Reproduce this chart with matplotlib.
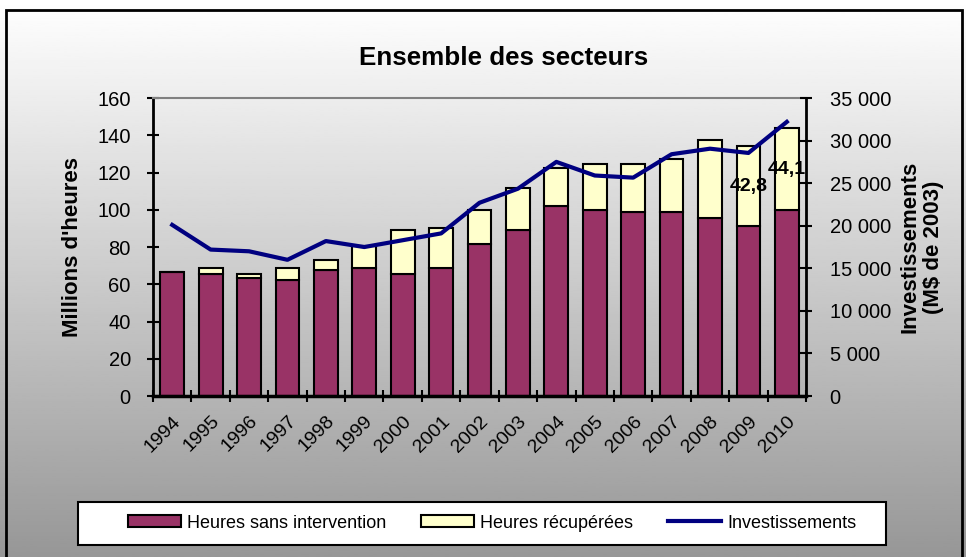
import numpy as np
import matplotlib.pyplot as plt
from matplotlib.patches import Rectangle, Patch
from matplotlib.lines import Line2D
from matplotlib.ticker import FuncFormatter

plt.rcParams['font.family'] = ['Liberation Sans', 'DejaVu Sans']

years = [str(y) for y in range(1994, 2011)]
sans_intervention = [66.5, 65.3, 63.5, 62.4, 67.4, 68.7, 65.3, 68.7, 81.8, 89.2,
                     102.0, 99.8, 98.9, 98.9, 95.5, 91.3, 99.8]
recuperees = [0.0, 3.4, 2.1, 6.3, 5.4, 11.8, 23.7, 21.5, 18.2, 22.6,
              20.7, 24.8, 25.7, 28.2, 42.0, 42.8, 44.1]
investissements = [20100, 17200, 17000, 16000, 18200, 17500, 18300, 19100, 22700, 24350,
                   27500, 25900, 25650, 28400, 29050, 28550, 32200]
labelled = {15: "42,8", 16: "44,1"}

purple = '#993366'
yellow = '#ffffcc'
navy = '#000080'

fig = plt.figure(figsize=(9.66, 5.57), dpi=100)

# gradient background of the whole chart
bg = fig.add_axes([0, 0, 1, 1], zorder=-10)
grad = np.linspace(1.0, 0.0, 256).reshape(-1, 1)
bg.imshow(grad, aspect='auto', cmap='gray', vmin=-1.45, vmax=1.0,
          extent=[0, 1, 0, 1], origin='upper')
bg.axis('off')
fig.patches.append(Rectangle((6 / 966, -0.01), 956 / 966, 1 - 10 / 557 + 0.01,
                             transform=fig.transFigure, fill=False,
                             edgecolor='black', linewidth=2))

ax = fig.add_axes([0.1584, 0.289, 0.676, 0.535])
ax.patch.set_alpha(0)
x = np.arange(len(years))

ax.bar(x, sans_intervention, width=0.62, color=purple, edgecolor='black', linewidth=1.5, zorder=2)
ax.bar(x, recuperees, width=0.62, bottom=sans_intervention, color=yellow,
       edgecolor='black', linewidth=1.5, zorder=2)

for i, txt in labelled.items():
    ax.text(x[i], sans_intervention[i] + recuperees[i] / 2, txt, ha='center', va='center',
            fontsize=14, fontweight='bold', zorder=5)

ax.set_xlim(-0.5, len(years) - 0.5)
ax.set_ylim(0, 160)
ax.set_yticks(range(0, 161, 20))
ax.set_xticks(x)
ax.set_xticklabels(years, rotation=45, ha='right', va='top', rotation_mode='anchor', fontsize=14)
ax.set_xticks(np.arange(-0.5, len(years), 1), minor=True)
ax.tick_params(axis='x', which='major', length=0, pad=12)
ax.tick_params(axis='x', which='minor', direction='inout', length=8, width=1.5)
ax.tick_params(axis='y', direction='inout', length=8, width=1.5, labelsize=14.5, pad=12)
ax.set_ylabel("Millions d'heures", fontsize=16, fontweight='bold', labelpad=10)

ax.spines['top'].set_color('#808080')
ax.spines['top'].set_linewidth(1.5)
ax.spines['left'].set_linewidth(2)
ax.spines['bottom'].set_linewidth(2.5)
ax.spines['right'].set_visible(False)

ax2 = ax.twinx()
ax2.plot(x, investissements, color=navy, linewidth=3, zorder=4)
ax2.set_ylim(0, 35000)
ax2.set_yticks(range(0, 35001, 5000))
ax2.yaxis.set_major_formatter(FuncFormatter(lambda v, p: f"{int(v):,}".replace(',', ' ')))
ax2.tick_params(axis='y', direction='inout', length=8, width=1.5, labelsize=14.5, pad=13)
ax2.spines['right'].set_linewidth(2)
for s in ['top', 'left', 'bottom']:
    ax2.spines[s].set_visible(False)
ax2.set_ylabel("Investissements\n(M$ de 2003)", fontsize=16, fontweight='bold',
               labelpad=6, linespacing=1.15)

fig.text(0.521, 0.895, "Ensemble des secteurs", ha='center', va='center',
         fontsize=18.7, fontweight='bold')

# legend box drawn separately so its padding matches the reference
fig.patches.append(Rectangle((78 / 966, 1 - 545 / 557), 808 / 966, 43 / 557,
                             transform=fig.transFigure, facecolor='white',
                             edgecolor='black', linewidth=1.5, zorder=1))
handles = [Patch(facecolor=purple, edgecolor='black', linewidth=1.5),
           Patch(facecolor=yellow, edgecolor='black', linewidth=1.5),
           Line2D([], [], color=navy, linewidth=3)]
leg = fig.legend(handles, ["Heures sans intervention", "Heures récupérées", "Investissements"],
                 loc='center left', bbox_to_anchor=(119 / 966, 1 - 523 / 557), ncol=3,
                 fontsize=13, frameon=False, borderpad=0,
                 handlelength=2.93, handleheight=0.61, handletextpad=0.33, columnspacing=1.95)
leg.set_zorder(3)

fig.savefig('out.png', dpi=100)
